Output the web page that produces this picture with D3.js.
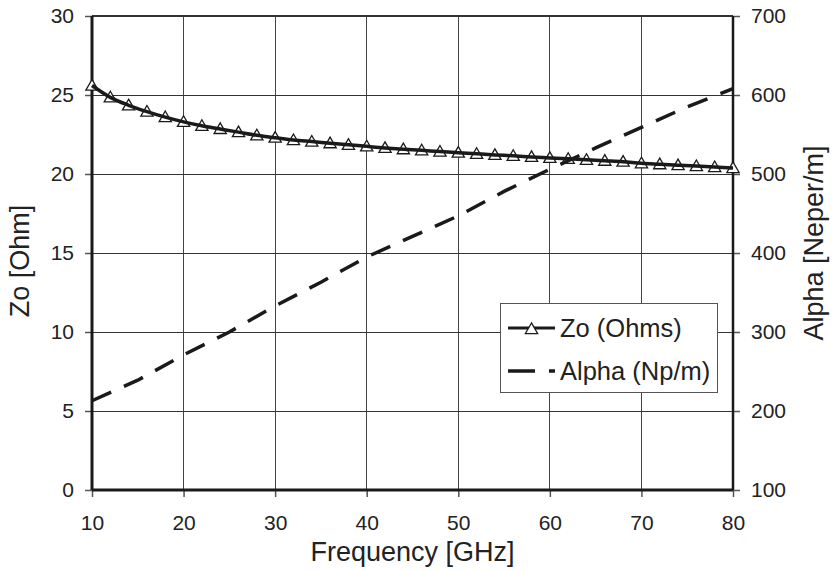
<!DOCTYPE html>
<html lang="en">
<head>
    <meta charset="UTF-8">
    <title>Zo and Alpha vs Frequency</title>
    <style>
        html, body { margin: 0; padding: 0; background: #fff; overflow: hidden; }
        text { font-family: "Liberation Sans", Arial, sans-serif; fill: #222; }
    </style>
</head>
<body>
    <script src="https://cdn.jsdelivr.net/npm/d3@7"></script>
    <script>

        // data
        const zoFreq = [10, 12, 14, 16, 18, 20, 22, 24, 26, 28, 30, 32, 34, 36, 38, 40, 42, 44,
            46, 48, 50, 52, 54, 56, 58, 60, 62, 64, 66, 68, 70, 72, 74, 76, 78, 80]
        const zoValues = [25.6, 24.85, 24.35, 23.95, 23.6, 23.3, 23.05, 22.85, 22.65, 22.45,
            22.3, 22.15, 22.05, 21.95, 21.85, 21.75, 21.65, 21.57, 21.5, 21.42,
            21.35, 21.28, 21.21, 21.15, 21.08, 21.02, 20.96, 20.9, 20.84, 20.78,
            20.68, 20.62, 20.56, 20.5, 20.44, 20.38]
        const alphaFreq = [10, 15, 20, 25, 30, 35, 40, 45, 50, 55, 60, 65, 70, 75, 80]
        const alphaValues = [213, 239, 271, 300, 333, 363, 395, 421, 447, 478, 506, 533, 559, 585, 608]

        const xTicks = [10, 20, 30, 40, 50, 60, 70, 80]
        const yLeftTicks = [0, 5, 10, 15, 20, 25, 30]
        const yRightTicks = [100, 200, 300, 400, 500, 600, 700]
        const seriesNames = ['Zo (Ohms)', 'Alpha (Np/m)']

        const width = 832
        const height = 571
        const margin = { top: 16, bottom: 81, left: 92, right: 99 }
        const w = width - margin.left - margin.right
        const h = height - margin.top - margin.bottom

        const svg = d3.select('body').append('svg')
            .attr('width', width)
            .attr('height', height)

        const g = svg.append('g')
            .attr('transform', `translate(${margin.left}, ${margin.top})`)

        const x = d3.scaleLinear().domain([10, 80]).range([0, w])
        const yL = d3.scaleLinear().domain([0, 30]).range([h, 0])
        const yR = d3.scaleLinear().domain([100, 700]).range([h, 0])

        // grid
        g.selectAll('.vgrid')
            .data(xTicks.slice(1, -1))
            .enter().append('line')
            .attr('stroke', '#444').attr('stroke-width', 1)
            .attr('shape-rendering', 'crispEdges')
            .attr('x1', d => x(d)).attr('x2', d => x(d))
            .attr('y1', 0).attr('y2', h)
        g.selectAll('.hgrid')
            .data(yLeftTicks.slice(1))
            .enter().append('line')
            .attr('stroke', '#333').attr('stroke-width', d => d === 30 ? 1.5 : 1)
            .attr('shape-rendering', 'crispEdges')
            .attr('x1', 0).attr('x2', w)
            .attr('y1', d => yL(d)).attr('y2', d => yL(d))

        // axes
        const tickFont = 21
        const styleAxis = (sel) => {
            sel.select('.domain').remove()
            sel.selectAll('.tick line').attr('stroke', '#555').attr('stroke-width', 1.5)
            sel.selectAll('.tick text')
                .style('font-size', tickFont + 'px')
                .style('font-family', '"Liberation Sans", Arial, sans-serif')
                .attr('fill', '#222')
        }

        g.append('g')
            .attr('transform', `translate(0, ${h})`)
            .call(d3.axisBottom(x).tickValues(xTicks).tickSize(7).tickPadding(18))
            .call(styleAxis)

        g.append('g')
            .call(d3.axisLeft(yL).tickValues(yLeftTicks).tickSize(7).tickPadding(11))
            .call(styleAxis)

        g.append('g')
            .attr('transform', `translate(${w}, 0)`)
            .call(d3.axisRight(yR).tickValues(yRightTicks).tickSize(7).tickPadding(11))
            .call(styleAxis)

        // frame
        g.append('line').attr('stroke', '#1a1a1a').attr('stroke-width', 3)
            .attr('x1', 0).attr('x2', 0).attr('y1', 0).attr('y2', h)
        g.append('line').attr('stroke', '#1a1a1a').attr('stroke-width', 2.5)
            .attr('x1', w).attr('x2', w).attr('y1', 0).attr('y2', h)
        g.append('line').attr('stroke', '#1a1a1a').attr('stroke-width', 3)
            .attr('x1', 0).attr('x2', w).attr('y1', h).attr('y2', h)

        // Zo series
        const zoData = zoFreq.map((f, i) => ({ f: f, v: zoValues[i] }))
        const tri = d3.symbol().type(d3.symbolTriangle).size(65)

        g.selectAll('.marker')
            .data(zoData)
            .enter().append('path')
            .attr('class', 'marker')
            .attr('d', tri)
            .attr('transform', d => `translate(${x(d.f)}, ${yL(d.v) + 1})`)
            .attr('fill', '#fff')
            .attr('stroke', '#1a1a1a')
            .attr('stroke-width', 1.3)

        g.append('path')
            .datum(zoData)
            .attr('fill', 'none')
            .attr('stroke', '#1a1a1a')
            .attr('stroke-width', 3.5)
            .attr('d', d3.line().curve(d3.curveMonotoneX).x(d => x(d.f)).y(d => yL(d.v)))

        // Alpha series
        const alphaData = alphaFreq.map((f, i) => ({ f: f, v: alphaValues[i] }))
        g.append('path')
            .datum(alphaData)
            .attr('fill', 'none')
            .attr('stroke', '#1a1a1a')
            .attr('stroke-width', 3.5)
            .attr('stroke-dasharray', '21, 14')
            .attr('d', d3.line().x(d => x(d.f)).y(d => yR(d.v)))

        // legend
        const lg = svg.append('g').attr('transform', 'translate(500, 303)')
        lg.append('rect')
            .attr('width', 217).attr('height', 89)
            .attr('fill', '#fff').attr('stroke', '#555').attr('stroke-width', 1)
            .attr('shape-rendering', 'crispEdges')

        lg.append('line').attr('stroke', '#1a1a1a').attr('stroke-width', 3)
            .attr('x1', 8).attr('x2', 55).attr('y1', 25).attr('y2', 25)
        lg.append('path').attr('d', tri)
            .attr('transform', 'translate(31.5, 27)')
            .attr('fill', '#fff').attr('stroke', '#1a1a1a').attr('stroke-width', 1.3)
        lg.append('line').attr('stroke', '#1a1a1a').attr('stroke-width', 3.5)
            .attr('stroke-dasharray', '27, 14')
            .attr('x1', 8).attr('x2', 55).attr('y1', 68).attr('y2', 68)

        lg.selectAll('.ltext')
            .data(seriesNames)
            .enter().append('text')
            .attr('x', 60)
            .attr('y', (d, i) => 25 + i * 43)
            .attr('dy', '0.35em')
            .style('font-size', '25.5px')
            .text(d => d)

        // titles
        svg.append('text')
            .attr('x', margin.left + w / 2).attr('y', 561)
            .attr('text-anchor', 'middle')
            .style('font-size', '27px')
            .text('Frequency [GHz]')

        svg.append('text')
            .attr('transform', `translate(29, ${margin.top + h / 2 + 8}) rotate(-90)`)
            .attr('text-anchor', 'middle')
            .style('font-size', '27px')
            .text('Zo [Ohm]')

        svg.append('text')
            .attr('transform', `translate(823, ${margin.top + h / 2 - 10}) rotate(-90)`)
            .attr('text-anchor', 'middle')
            .style('font-size', '27px')
            .text('Alpha [Neper/m]')

    </script>
</body>
</html>
